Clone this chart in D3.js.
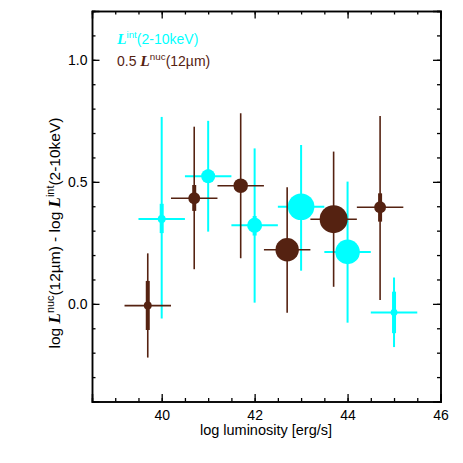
<!DOCTYPE html>
<html>
<head>
<meta charset="utf-8">
<script src="https://cdn.jsdelivr.net/npm/d3@7"></script>
<style>
  body { margin: 0; background: #fff; }
  text { font-family: "Liberation Sans", Arial, Helvetica, sans-serif; }
</style>
</head>
<body>
<div id="chart"></div>
<script>
// cyan: L_int(2-10keV) bins
const intX = [40.0, 41.0, 42.0, 43.0, 44.0, 45.0]
const intY = [0.348, 0.523, 0.322, 0.398, 0.213, -0.035]
const intTop = [0.766, 0.75, 0.637, 0.651, 0.501, 0.108]
const intBot = [-0.06, 0.296, 0.005, 0.136, -0.077, -0.177]
const intTop2 = [0.41, 0.55, 0.36, 0.42, 0.23, 0.05]
const intBot2 = [0.29, 0.50, 0.28, 0.38, 0.20, -0.12]
const intN = [8, 25, 29, 90, 77, 6]

// brown: 0.5 L_nuc(12um) bins
const nucX = [39.7, 40.7, 41.7, 42.7, 43.7, 44.7]
const nucY = [-0.007, 0.433, 0.484, 0.222, 0.347, 0.396]
const nucTop = [0.207, 0.726, 0.781, 0.478, 0.624, 0.77]
const nucBot = [-0.22, 0.142, 0.187, -0.036, 0.07, 0.016]
const nucTop2 = [0.094, 0.487, 0.50, 0.24, 0.37, 0.453]
const nucBot2 = [-0.107, 0.381, 0.47, 0.20, 0.33, 0.337]
const nucN = [8, 18, 27, 70, 100, 18]

const binHalf = 0.5
const xTicks = [40, 42, 44, 46]
const yTicks = [0.0, 0.5, 1.0]

const width = 463
const height = 463
const m = { left: 92, right: 22.5, top: 11, bottom: 61.5 }

const cyan = '#00ffff'
const brown = '#552211'

const svg = d3.select('#chart')
    .append('svg')
    .attr('width', width)
    .attr('height', height)

const x = d3.scaleLinear().domain([38.5, 46]).range([m.left, width - m.right])
const y = d3.scaleLinear().domain([-0.4, 1.2]).range([height - m.bottom, m.top])
const r = d3.scaleSqrt().domain([0, 100]).range([0, 14])

// axes with ticks on all four sides, pointing inward
const xMinor = d3.range(39, 46.01, 0.5)
const yMinor = d3.range(-0.3, 1.201, 0.1)

function drawAxis(axis, cls) {
    const g = svg.append('g').attr('class', cls).call(axis)
    g.select('.domain').attr('stroke-width', 1.5)
    g.selectAll('.tick line').attr('stroke-width', 1.3)
    g.selectAll('.tick text').attr('font-size', 14).attr('fill', '#000')
    return g
}

const bottomY = height - m.bottom
const rightX = width - m.right

drawAxis(d3.axisBottom(x).tickValues(xMinor).tickSize(-3.5).tickFormat(''), 'xminor')
    .attr('transform', `translate(0,${bottomY})`)
drawAxis(d3.axisTop(x).tickValues(xMinor).tickSize(-3.5).tickFormat(''), 'xminor-top')
    .attr('transform', `translate(0,${m.top})`)
drawAxis(d3.axisBottom(x).tickValues(xTicks).tickSize(-7.5).tickPadding(8.5).tickFormat(d3.format('d')), 'x-axis')
    .attr('transform', `translate(0,${bottomY})`)
drawAxis(d3.axisTop(x).tickValues(xTicks).tickSize(-7.5).tickFormat(''), 'x-top')
    .attr('transform', `translate(0,${m.top})`)

drawAxis(d3.axisLeft(y).tickValues(yMinor).tickSize(-3.5).tickFormat(''), 'yminor')
    .attr('transform', `translate(${m.left},0)`)
drawAxis(d3.axisRight(y).tickValues(yMinor).tickSize(-3.5).tickFormat(''), 'yminor-right')
    .attr('transform', `translate(${rightX},0)`)
drawAxis(d3.axisLeft(y).tickValues(yTicks).tickSize(-7.5).tickPadding(4.5).tickFormat(d3.format('.1f')), 'y-axis')
    .attr('transform', `translate(${m.left},0)`)
drawAxis(d3.axisRight(y).tickValues(yTicks).tickSize(-7.5).tickFormat(''), 'y-right')
    .attr('transform', `translate(${rightX},0)`)

// data
const series = [
    { xs: intX, ys: intY, top: intTop, bot: intBot, top2: intTop2, bot2: intBot2, n: intN, color: cyan, thin: 2 },
    { xs: nucX, ys: nucY, top: nucTop, bot: nucBot, top2: nucTop2, bot2: nucBot2, n: nucN, color: brown, thin: 1.6 }
]

series.forEach(s => {
    const pts = s.xs.map((d, i) => ({ x: d, y: s.ys[i], t: s.top[i], b: s.bot[i], t2: s.top2[i], b2: s.bot2[i], n: s.n[i] }))
    const g = svg.append('g')

    g.selectAll('.ex').data(pts).enter().append('line')
        .attr('x1', d => x(d.x - binHalf)).attr('x2', d => x(d.x + binHalf))
        .attr('y1', d => y(d.y)).attr('y2', d => y(d.y))
        .attr('stroke', s.color).attr('stroke-width', s.thin)

    g.selectAll('.ey').data(pts).enter().append('line')
        .attr('x1', d => x(d.x)).attr('x2', d => x(d.x))
        .attr('y1', d => y(d.t)).attr('y2', d => y(d.b))
        .attr('stroke', s.color).attr('stroke-width', s.thin)

    g.selectAll('.ey2').data(pts).enter().append('line')
        .attr('x1', d => x(d.x)).attr('x2', d => x(d.x))
        .attr('y1', d => y(d.t2)).attr('y2', d => y(d.b2))
        .attr('stroke', s.color).attr('stroke-width', 4)

    g.selectAll('circle').data(pts).enter().append('circle')
        .attr('cx', d => x(d.x)).attr('cy', d => y(d.y))
        .attr('r', d => r(d.n))
        .attr('fill', s.color)
})

// bold italic serif L with a superscript
function addL(t, sup, size) {
    t.append('tspan').text('L')
        .style('font-family', '"Liberation Serif", "Times New Roman", serif')
        .attr('font-style', 'italic').attr('font-weight', 'bold').attr('font-size', size + 1.5)
    t.append('tspan').text(sup).attr('font-size', size * 0.7).attr('dy', -6)
}

// legend
function legendLine(yPos, color, pre, sup, post) {
    const t = svg.append('text')
        .attr('x', 117).attr('y', yPos)
        .attr('font-size', 14).attr('fill', color)
    if (pre) t.append('tspan').text(pre)
    addL(t, sup, 14)
    t.append('tspan').text(post).attr('dy', 6)
}
legendLine(43.5, cyan, '', 'int', '(2-10keV)')
legendLine(66, brown, '0.5 ', 'nuc', '(12µm)')

// axis titles
svg.append('text')
    .attr('x', 266).attr('y', 435)
    .attr('text-anchor', 'middle').attr('font-size', 14.5)
    .text('log luminosity [erg/s]')

const yl = svg.append('text')
    .attr('transform', `translate(60,233) rotate(-90)`)
    .attr('text-anchor', 'middle').attr('font-size', 15.5)
yl.append('tspan').text('log ')
addL(yl, 'nuc', 15.5)
yl.append('tspan').text('(12µm) - log ').attr('dy', 6)
addL(yl, 'int', 15.5)
yl.append('tspan').text('(2-10keV)').attr('dy', 6)
</script>
</body>
</html>
